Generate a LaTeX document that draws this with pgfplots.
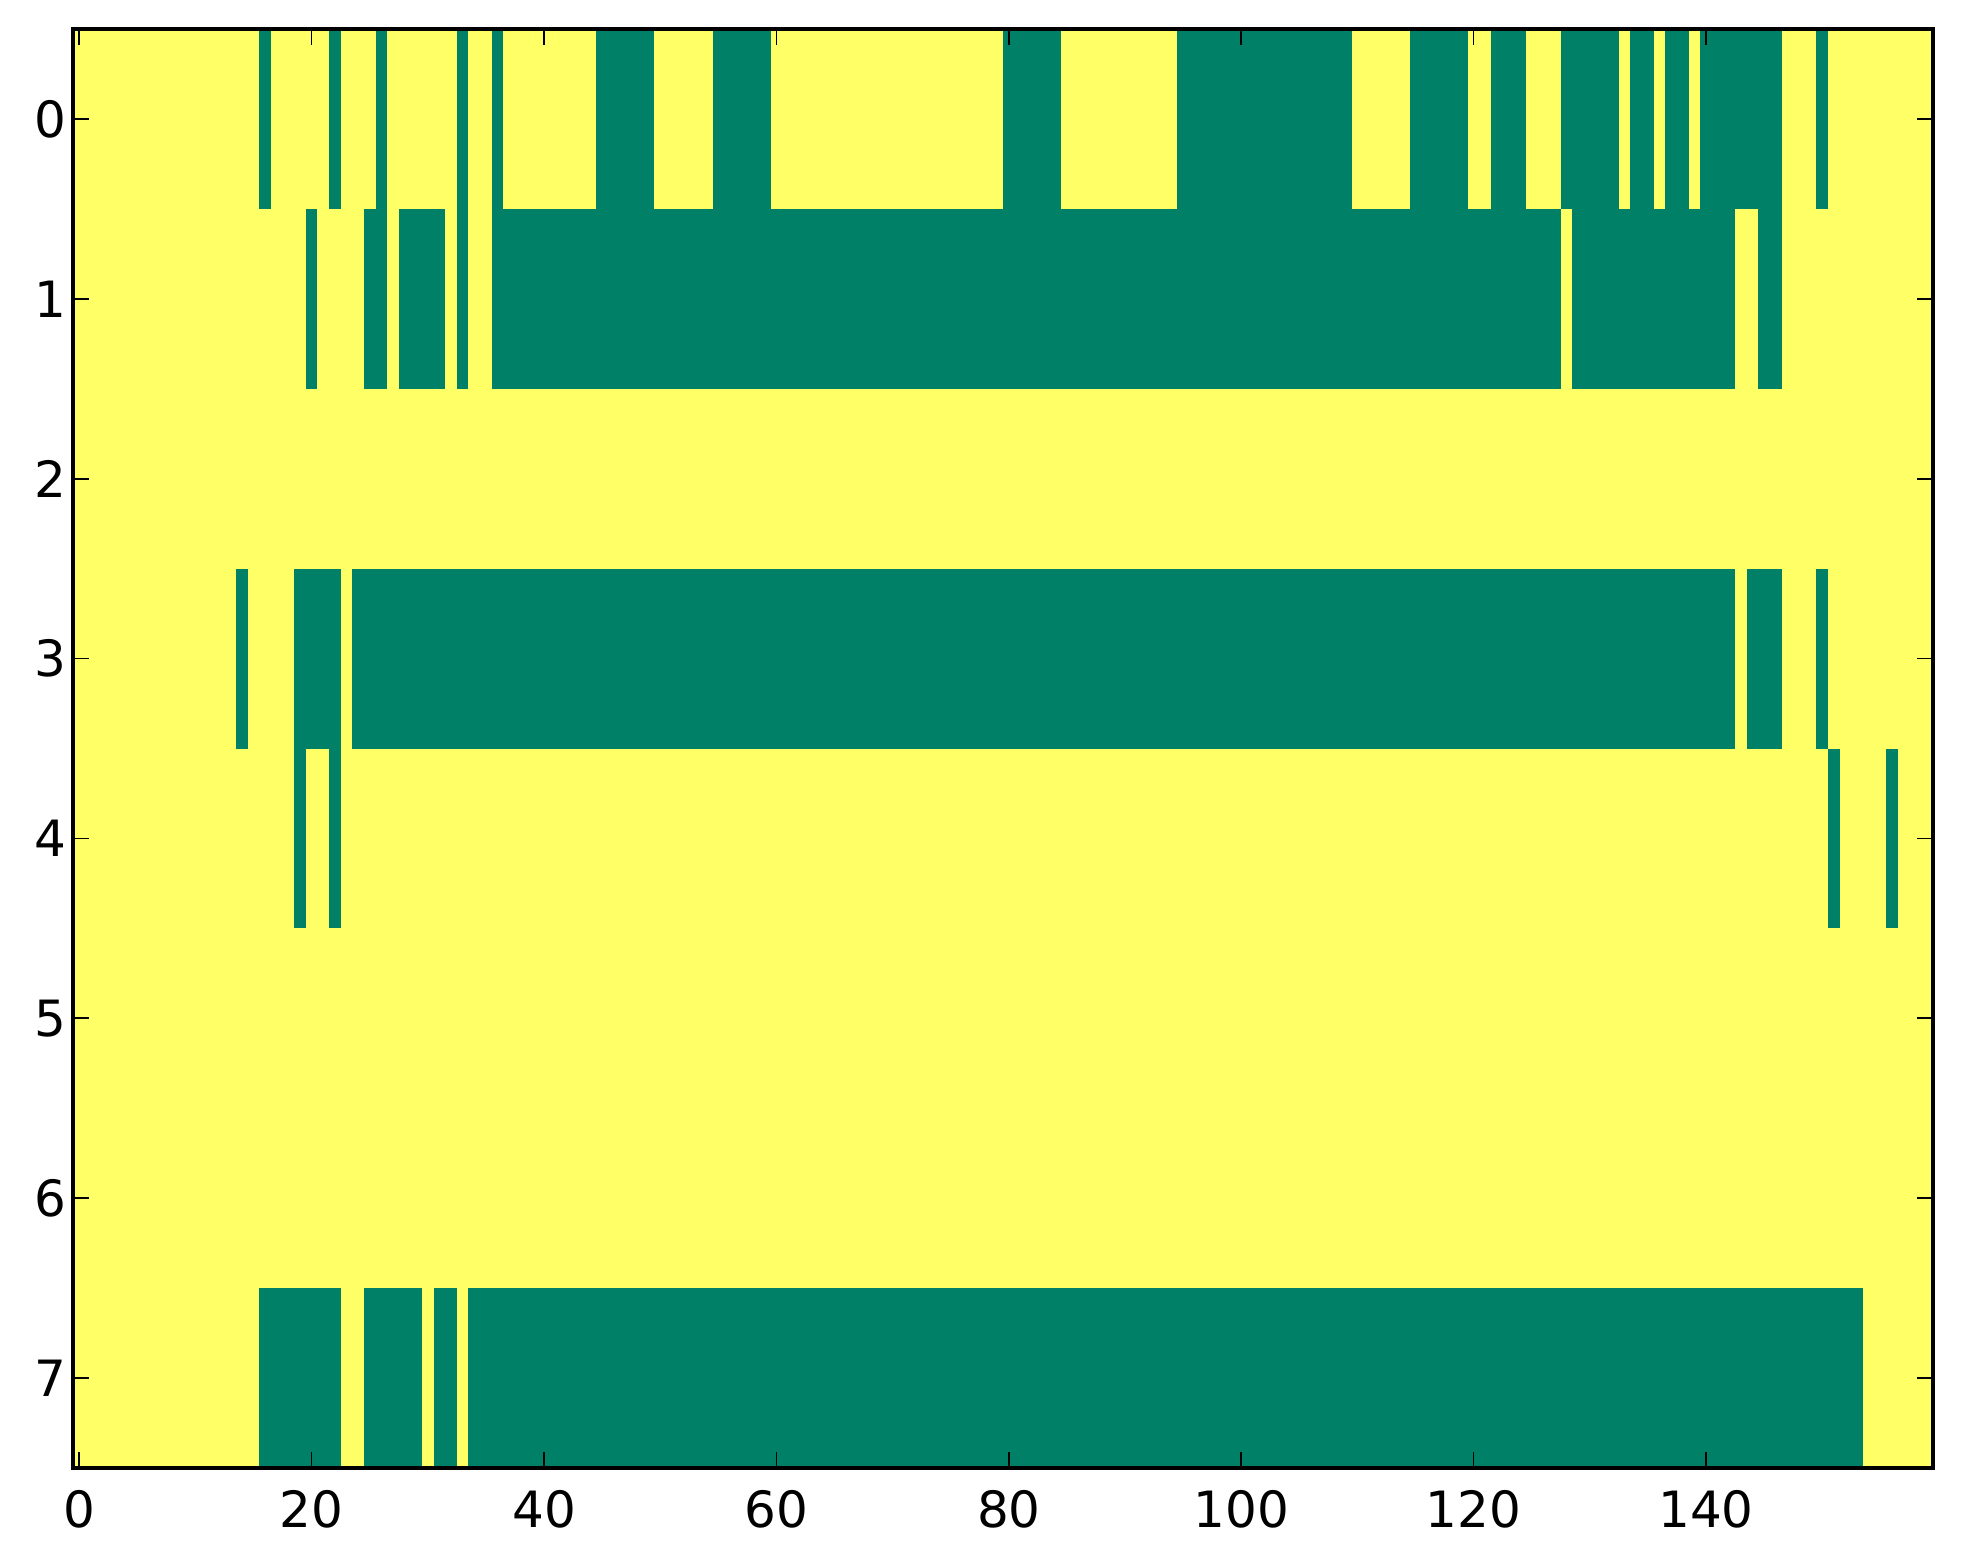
\documentclass[border=0pt]{standalone}
\usepackage{fontspec}
\setmainfont{DejaVu Sans}
\usepackage{pgfplots}
\pgfplotsset{compat=1.18}

\definecolor{sgreen}{RGB}{0,128,102}
\definecolor{syellow}{RGB}{255,255,102}

% one green run of cells: x from #1 to #2, rows from #3 to #4
\newcommand\seg[4]{\addplot[fill=sgreen, draw=none, forget plot] coordinates {(#1,#3) (#2,#3) (#2,#4) (#1,#4)};}

\begin{document}
\begin{tikzpicture}
\begin{axis}[
  scale only axis,
  width=557.76pt, height=431.7pt,
  xmin=-0.5, xmax=159.5, ymin=-0.5, ymax=7.5,
  y dir=reverse,
  axis background/.style={fill=syellow},
  xtick={0,20,...,140}, ytick={0,...,7},
  tick pos=both, tick align=inside,
  major tick length=4.65pt,
  every tick/.style={black, line width=0.5pt},
  axis line style={line width=1.2pt},
  ticklabel style={font=\fontsize{15}{18}\selectfont, inner sep=0pt},
  xticklabel shift=6.6pt, yticklabel shift=1.8pt,
  /pgf/number format/assume math mode=true,
  axis on top,
]
% row 0
\seg{15.5}{16.5}{-0.5}{0.5}
\seg{21.5}{22.5}{-0.5}{0.5}
\seg{25.5}{26.5}{-0.5}{0.5}
\seg{32.5}{33.5}{-0.5}{0.5}
\seg{35.5}{36.5}{-0.5}{0.5}
\seg{44.5}{49.5}{-0.5}{0.5}
\seg{54.5}{59.5}{-0.5}{0.5}
\seg{79.5}{84.5}{-0.5}{0.5}
\seg{94.5}{109.5}{-0.5}{0.5}
\seg{114.5}{119.5}{-0.5}{0.5}
\seg{121.5}{124.5}{-0.5}{0.5}
\seg{127.5}{132.5}{-0.5}{0.5}
\seg{133.5}{135.5}{-0.5}{0.5}
\seg{136.5}{138.5}{-0.5}{0.5}
\seg{139.5}{146.5}{-0.5}{0.5}
\seg{149.5}{150.5}{-0.5}{0.5}
% row 1
\seg{19.5}{20.5}{0.5}{1.5}
\seg{24.5}{26.5}{0.5}{1.5}
\seg{27.5}{31.5}{0.5}{1.5}
\seg{32.5}{33.5}{0.5}{1.5}
\seg{35.5}{127.5}{0.5}{1.5}
\seg{128.5}{142.5}{0.5}{1.5}
\seg{144.5}{146.5}{0.5}{1.5}
% row 3
\seg{13.5}{14.5}{2.5}{3.5}
\seg{18.5}{22.5}{2.5}{3.5}
\seg{23.5}{142.5}{2.5}{3.5}
\seg{143.5}{146.5}{2.5}{3.5}
\seg{149.5}{150.5}{2.5}{3.5}
% row 4
\seg{18.5}{19.5}{3.5}{4.5}
\seg{21.5}{22.5}{3.5}{4.5}
\seg{150.5}{151.5}{3.5}{4.5}
\seg{155.5}{156.5}{3.5}{4.5}
% row 7
\seg{15.5}{22.5}{6.5}{7.5}
\seg{24.5}{29.5}{6.5}{7.5}
\seg{30.5}{32.5}{6.5}{7.5}
\seg{33.5}{153.5}{6.5}{7.5}
\end{axis}
\pgfresetboundingbox
\path[use as bounding box] ([shift={(-22.02pt,-28.8pt)}]current axis.south west) rectangle ([shift={(9.12pt,8.7pt)}]current axis.north east);
\end{tikzpicture}
\end{document}
